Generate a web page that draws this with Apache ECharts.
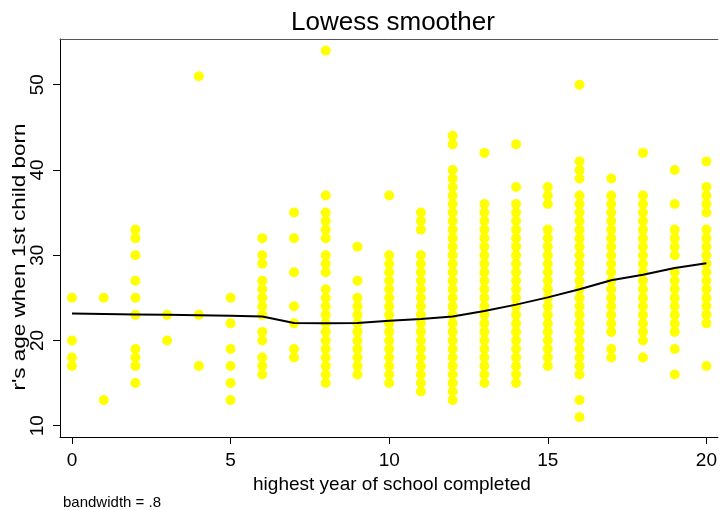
<!DOCTYPE html>
<html>
<head>
<meta charset="utf-8">
<script src="https://cdn.jsdelivr.net/npm/echarts@6/dist/echarts.min.js"></script>
<style>html,body{margin:0;padding:0;background:#fff}#c{width:720px;height:510px}</style>
</head>
<body>
<div id="c"></div>
<script>
// Highest year of school completed (x categories)
const schoolYears = [0,1,2,3,4,5,6,7,8,9,10,11,12,13,14,15,16,17,18,19,20];
// Respondent's age when 1st child born, for each school year
const age0 = [25,20,18,17];
const age1 = [25,13];
const age2 = [33,32,30,27,25,23,19,18,17,15];
const age3 = [23,20];
const age4 = [51,23,17];
const age5 = [25,22,19,17,15,13];
const age6 = [32,30,29,27,26,25,24,23,21,20,18,17,16];
const age7 = [35,32,28,24,22,19,18];
const age8 = [54,37,35,34,33,32,30,29,28,26,25,24,23,22,21,20,19,18,17,16,15];
const age9 = [31,27,25,24,23,22,21,20,19,18,17,16];
const age10 = [37,30,29,28,27,26,25,24,23,22,21,20,19,18,17,16,15];
const age11 = [35,34,33,30,29,28,27,26,25,24,23,22,21,20,19,18,17,16,15,14];
const age12 = [44,43,40,39,38,37,36,35,34,33,32,31,30,29,28,27,26,25,24,23,22,21,20,19,18,17,16,15,14,13];
const age13 = [42,36,35,34,33,32,31,30,29,28,27,26,25,24,23,22,21,20,19,18,17,16,15];
const age14 = [43,38,36,35,34,33,32,31,30,29,28,27,26,25,24,23,22,21,20,19,18,17,16,15];
const age15 = [38,37,36,33,32,31,30,29,28,27,26,25,24,23,22,21,20,19,18,17];
const age16 = [50,41,40,39,37,36,35,34,33,32,31,30,29,28,27,26,25,24,23,22,21,20,19,18,17,16,13,11];
const age17 = [39,37,36,35,34,33,32,31,30,29,28,27,26,25,24,23,22,21,19,18];
const age18 = [42,37,36,35,34,33,32,31,30,29,28,27,26,25,24,23,22,21,20,18];
const age19 = [40,36,33,32,31,30,28,27,26,25,24,23,22,21,19,16];
const age20 = [41,38,37,36,35,33,32,31,30,29,28,27,26,25,24,23,22,17];
// Lowess smoothed values at each school year
const lowessValues = [23.15,23.1,23.05,23.0,22.95,22.9,22.8,22.05,22.0,22.05,22.3,22.5,22.8,23.45,24.2,25.05,26.0,27.05,27.7,28.5,29.05];
// Tick labels
const xTicks = [0,5,10,15,20];
const yTicks = [10,20,30,40,50];

const ageLists = [age0,age1,age2,age3,age4,age5,age6,age7,age8,age9,age10,age11,age12,age13,age14,age15,age16,age17,age18,age19,age20];
const scatterData = [];
ageLists.forEach((list, i) => list.forEach(a => scatterData.push([schoolYears[i], a])));
const lowessData = schoolYears.map((x, i) => [x, lowessValues[i]]);

const FONT = 'Liberation Sans, Arial, Helvetica, sans-serif';
const chart = echarts.init(document.getElementById('c'), null, {renderer: 'canvas'});
chart.setOption({
  animation: false,
  backgroundColor: '#ffffff',
  title: {
    text: 'Lowess smoother', left: 388, top: 5, textAlign: 'center',
    textStyle: {fontFamily: FONT, fontSize: 26, fontWeight: 'normal', color: '#000'}
  },
  grid: {left: 60, right: 0, top: 39, bottom: 73},
  xAxis: [{
    type: 'value', min: -0.377, max: 20.36,
    name: 'highest year of school completed', nameLocation: 'middle', nameGap: 27,
    nameTextStyle: {fontFamily: FONT, fontSize: 19, color: '#000', padding: [0, 0, 0, 6]},
    axisLine: {show: true, onZero: false, lineStyle: {color: '#000', width: 1}},
    axisTick: {show: true, length: 7, customValues: xTicks, lineStyle: {color: '#000'}},
    axisLabel: {customValues: xTicks, margin: 14, fontFamily: FONT, fontSize: 19, color: '#000'},
    splitLine: {show: false}
  }, {
    type: 'value', position: 'top', min: -0.377, max: 20.36,
    axisLine: {show: true, lineStyle: {color: '#555', width: 1}},
    axisTick: {show: false}, axisLabel: {show: false}, splitLine: {show: false}
  }],
  yAxis: {
    type: 'value', min: 8.67, max: 55.36,
    axisLine: {show: true, onZero: false, lineStyle: {color: '#000', width: 1}},
    axisTick: {show: true, length: 7, customValues: yTicks, lineStyle: {color: '#000'}},
    axisLabel: {customValues: yTicks, rotate: 90, margin: 13, fontFamily: FONT, fontSize: 19, color: '#000'},
    splitLine: {show: false}
  },
  graphic: [{
    type: 'text', x: 20, y: 257, rotation: Math.PI / 2, scaleX: 1.25,
    style: {text: "r's age when 1st child born", fontFamily: FONT, fontSize: 18, fill: '#000', align: 'center', verticalAlign: 'middle'}
  }, {
    type: 'text', left: 63, top: 495,
    style: {text: 'bandwidth = .8', fontFamily: FONT, fontSize: 15, fill: '#000'}
  }],
  series: [{
    type: 'scatter', data: scatterData, symbol: 'circle', symbolSize: 10,
    itemStyle: {color: '#ffff00', opacity: 1}, z: 2
  }, {
    type: 'line', data: lowessData, showSymbol: false, symbol: 'none',
    lineStyle: {color: '#000', width: 2}, z: 3
  }]
});
</script>
</body>
</html>
